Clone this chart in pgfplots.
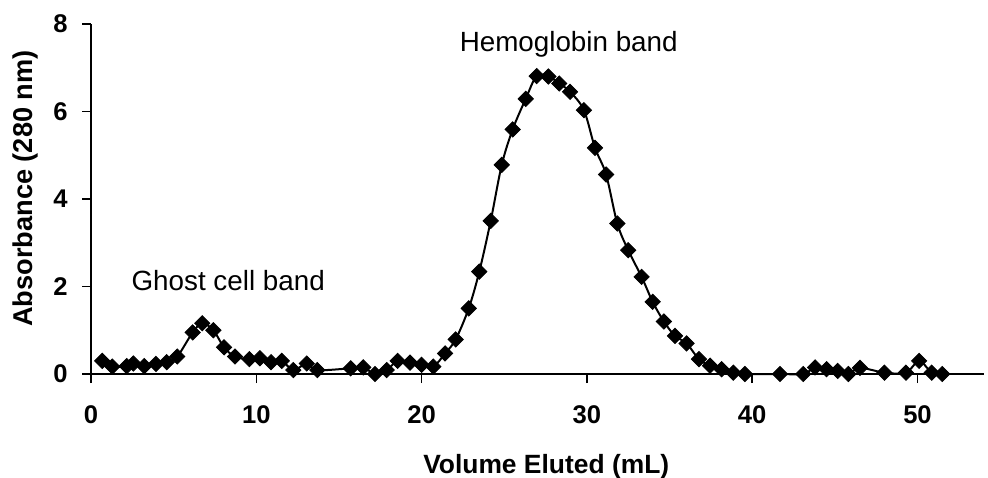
\documentclass[border=0pt]{standalone}
\usepackage{fontspec}
\setmainfont{Liberation Sans}
\usepackage{pgfplots}
\pgfplotsset{compat=1.18}

% elution profile
\pgfplotstableread{
x y
0.68 0.30
1.29 0.17
2.16 0.18
2.56 0.24
3.22 0.18
3.93 0.23
4.58 0.27
5.22 0.40
6.15 0.95
6.73 1.16
7.40 1.00
8.05 0.61
8.71 0.40
9.58 0.34
10.22 0.36
10.89 0.27
11.54 0.30
12.24 0.09
13.05 0.24
13.69 0.09
15.71 0.13
16.47 0.15
17.18 0.00
17.89 0.09
18.55 0.30
19.30 0.26
20.00 0.21
20.71 0.17
21.42 0.47
22.06 0.79
22.85 1.50
23.49 2.34
24.18 3.50
24.85 4.78
25.51 5.59
26.30 6.29
26.96 6.81
27.67 6.80
28.33 6.64
28.98 6.45
29.82 6.03
30.49 5.17
31.16 4.56
31.84 3.44
32.50 2.83
33.31 2.22
33.98 1.65
34.66 1.20
35.33 0.87
36.03 0.70
36.78 0.34
37.45 0.19
38.15 0.11
38.86 0.03
39.56 0.00
41.68 0.00
43.09 0.00
43.80 0.15
44.50 0.11
45.17 0.07
45.82 0.00
46.52 0.14
48.00 0.03
49.30 0.03
50.10 0.30
50.86 0.03
51.50 0.00
}\elution

\begin{document}
\begin{tikzpicture}
\path[use as bounding box] (0,0) rectangle (494pt,238.5pt);
\begin{axis}[
    at={(45.5pt,51.5pt)}, anchor=south west,
    scale only axis, width=446.3pt, height=175pt,
    xmin=0, xmax=54, ymin=0, ymax=8,
    axis lines=left,
    axis line style={-, line width=0.75pt},
    xtick={0,10,...,50}, ytick={0,2,...,8},
    minor tick num=0,
    tick align=outside, major tick length=4.5pt,
    tick style={line width=0.75pt, black},
    ticklabel style={font=\fontsize{12.8}{14}\selectfont\bfseries},
    /pgf/number format/assume math mode=true,
    xticklabel style={yshift=-8pt},
    yticklabel style={xshift=-3.7pt},
    xlabel={Volume Eluted (mL)},
    ylabel={Absorbance (280 nm)},
    every axis x label/.style={at={(axis description cs:0.51,-0.283)}, anchor=base,
        font=\fontsize{13.2}{15}\selectfont\bfseries},
    every axis y label/.style={at={(axis description cs:-0.065,0.53)}, rotate=90, anchor=base,
        font=\fontsize{13.6}{15}\selectfont\bfseries},
    clip=false,
]
\addplot[black, line width=1pt, smooth, tension=0.55,
    mark=square*, mark size=2.7pt,
    mark options={rotate=45, fill=black, line width=0.4pt}] table {\elution};
\node[anchor=base, font=\fontsize{13.9}{16}\selectfont] at (axis cs:28.9,7.36) {Hemoglobin band};
\node[anchor=base, font=\fontsize{13.9}{16}\selectfont] at (axis cs:8.3,1.92) {Ghost cell band};
\end{axis}
\end{tikzpicture}
\end{document}
